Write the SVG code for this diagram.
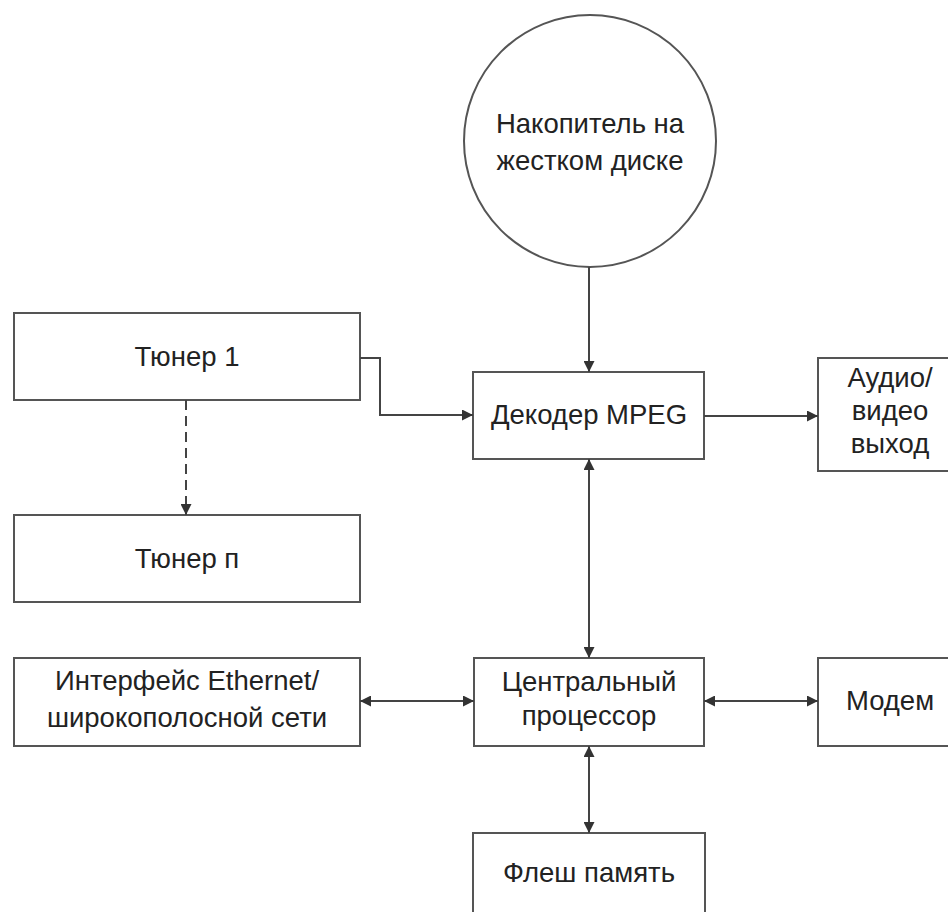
<svg xmlns="http://www.w3.org/2000/svg" width="948" height="912" viewBox="0 0 948 912">
<defs>
<marker id="ah" viewBox="0 0 10 10" refX="10" refY="5" markerWidth="11" markerHeight="11" markerUnits="userSpaceOnUse" orient="auto-start-reverse">
<path d="M0,0 L10,5 L0,10 Z" fill="#333"/>
</marker>
</defs>
<style>
.box{fill:#fff;stroke:#555;stroke-width:2}
.t{font-family:"Liberation Sans",Arial,sans-serif;font-size:27.5px;fill:#222;text-anchor:middle}
.c{fill:none;stroke:#444;stroke-width:2}
</style>
<rect width="948" height="912" fill="#fff"/>
<g id="hdd">
<circle class="box" cx="590" cy="141" r="126"/>
<text class="t" x="590" y="133">Накопитель на</text>
<text class="t" x="590" y="170">жестком диске</text>
</g>
<g id="tuner1">
<rect class="box" x="14" y="313" width="346" height="87"/>
<text class="t" x="187" y="366">Тюнер 1</text>
</g>
<g id="tunern">
<rect class="box" x="14" y="515" width="346" height="87"/>
<text class="t" x="187" y="568">Тюнер п</text>
</g>
<g id="decoder">
<rect class="box" x="473" y="372" width="231" height="87"/>
<text class="t" x="589" y="424">Декодер MPEG</text>
</g>
<g id="av">
<rect class="box" x="818" y="358" width="140" height="113"/>
<text class="t" x="890" y="387">Аудио/</text>
<text class="t" x="890" y="420">видео</text>
<text class="t" x="890" y="453">выход</text>
</g>
<g id="ethernet">
<rect class="box" x="14" y="658" width="346" height="88"/>
<text class="t" x="187" y="690">Интерфейс Ethernet/</text>
<text class="t" x="187" y="727">широкополосной сети</text>
</g>
<g id="cpu">
<rect class="box" x="474" y="658" width="230" height="88"/>
<text class="t" x="589" y="691">Центральный</text>
<text class="t" x="589" y="725">процессор</text>
</g>
<g id="modem">
<rect class="box" x="818" y="658" width="140" height="88"/>
<text class="t" x="890" y="710">Модем</text>
</g>
<g id="flash">
<rect class="box" x="473" y="833" width="232" height="100"/>
<text class="t" x="589" y="882">Флеш память</text>
</g>
<g id="connectors">
<path class="c" d="M589,267 L589,372" marker-end="url(#ah)"/>
<path class="c" d="M360,358 L380,358 L380,415 L473,415" marker-end="url(#ah)"/>
<path class="c" d="M186,400 L186,515" stroke-dasharray="10,6" marker-end="url(#ah)"/>
<path class="c" d="M704,416 L818,416" marker-end="url(#ah)"/>
<path class="c" d="M589,459 L589,658" marker-start="url(#ah)" marker-end="url(#ah)"/>
<path class="c" d="M360,701 L474,701" marker-start="url(#ah)" marker-end="url(#ah)"/>
<path class="c" d="M704,701 L818,701" marker-start="url(#ah)" marker-end="url(#ah)"/>
<path class="c" d="M589,746 L589,833" marker-start="url(#ah)" marker-end="url(#ah)"/>
</g>
</svg>
